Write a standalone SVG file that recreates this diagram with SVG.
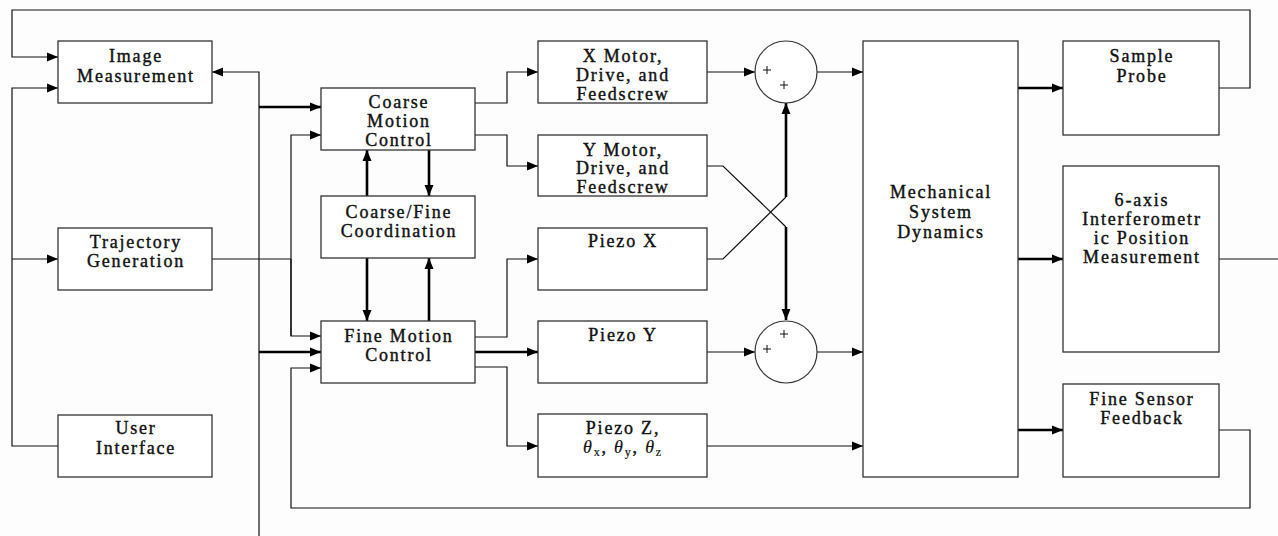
<svg xmlns="http://www.w3.org/2000/svg" width="1278" height="536" viewBox="0 0 1278 536">
<style>
.box{fill:#fff;stroke:#333;stroke-width:1.3}
.t{font-family:'Liberation Serif','DejaVu Serif',serif;font-size:18px;letter-spacing:1.8px;text-anchor:middle;fill:#111;stroke:#111;stroke-width:0.4}
.ln{fill:none;stroke:#111;stroke-width:1.2}
.th{fill:none;stroke:#000;stroke-width:2.6}
.pl{fill:none;stroke:#111;stroke-width:1}
.sub{font-size:12px;stroke-width:0.2}
.it{font-style:italic;stroke-width:0.2}
</style>
<defs>
<marker id="ah" markerUnits="userSpaceOnUse" markerWidth="12" markerHeight="10" refX="11" refY="5" orient="auto">
<path d="M0,0.5 L11,5 L0,9.5 Z" fill="#000"/>
</marker>
</defs>
<rect width="1278" height="536" fill="#fdfdfd"/>

<g id="connectors">
<path class="ln" d="M1219,88 H1250 V10 H12 V57 H58" marker-end="url(#ah)"/>
<path class="ln" d="M58,446 H12 V88 H58" marker-end="url(#ah)"/>
<path class="ln" d="M12,259 H58" marker-end="url(#ah)"/>
<path class="ln" d="M259,536 V72 H212" marker-end="url(#ah)"/>
<path class="th" d="M259,107 H321" marker-end="url(#ah)"/>
<path class="th" d="M259,352 H321" marker-end="url(#ah)"/>
<path class="ln" d="M212,259 H291"/>
<path class="ln" d="M291,336 V135 H321" marker-end="url(#ah)"/>
<path class="ln" d="M291,259 V336 H321" marker-end="url(#ah)"/>
<path class="ln" d="M1219,430 H1250 V508 H291 V368 H321" marker-end="url(#ah)"/>
<path class="th" d="M367,196 V150" marker-end="url(#ah)"/>
<path class="th" d="M429,150 V196" marker-end="url(#ah)"/>
<path class="th" d="M367,258 V321" marker-end="url(#ah)"/>
<path class="th" d="M429,321 V258" marker-end="url(#ah)"/>
<path class="ln" d="M475,103 H507 V72 H538" marker-end="url(#ah)"/>
<path class="ln" d="M475,135 H507 V166 H538" marker-end="url(#ah)"/>
<path class="ln" d="M475,337 H507 V259 H538" marker-end="url(#ah)"/>
<path class="th" d="M475,352 H538" marker-end="url(#ah)"/>
<path class="ln" d="M475,367 H507 V446 H538" marker-end="url(#ah)"/>
<path class="ln" d="M707,72 H755" marker-end="url(#ah)"/>
<path class="ln" d="M817,72 H863" marker-end="url(#ah)"/>
<path class="ln" d="M707,166 H723 L786,227"/>
<path class="th" d="M786,227 V320" marker-end="url(#ah)"/>
<path class="ln" d="M707,259 H723 L786,197"/>
<path class="th" d="M786,197 V103" marker-end="url(#ah)"/>
<path class="ln" d="M707,352 H755" marker-end="url(#ah)"/>
<path class="ln" d="M817,352 H863" marker-end="url(#ah)"/>
<path class="ln" d="M707,446 H863" marker-end="url(#ah)"/>
<path class="th" d="M1018,88 H1063" marker-end="url(#ah)"/>
<path class="th" d="M1018,259 H1063" marker-end="url(#ah)"/>
<path class="th" d="M1018,430 H1063" marker-end="url(#ah)"/>
<path class="ln" d="M1219,259 H1278"/>
</g>

<g id="image-measurement">
<rect class="box" x="58" y="41" width="154" height="62"/>
<text class="t" x="136" y="62">Image</text>
<text class="t" x="136" y="82">Measurement</text>
</g>
<g id="trajectory-generation">
<rect class="box" x="58" y="228" width="154" height="62"/>
<text class="t" x="136" y="248">Trajectory</text>
<text class="t" x="136" y="267">Generation</text>
</g>
<g id="user-interface">
<rect class="box" x="58" y="415" width="154" height="62"/>
<text class="t" x="136" y="434">User</text>
<text class="t" x="136" y="454">Interface</text>
</g>
<g id="coarse-motion-control">
<rect class="box" x="321" y="88" width="154" height="62"/>
<text class="t" x="399" y="108">Coarse</text>
<text class="t" x="399" y="127">Motion</text>
<text class="t" x="399" y="146">Control</text>
</g>
<g id="coarse-fine-coordination">
<rect class="box" x="321" y="196" width="154" height="62"/>
<text class="t" x="399" y="218">Coarse/Fine</text>
<text class="t" x="399" y="237">Coordination</text>
</g>
<g id="fine-motion-control">
<rect class="box" x="321" y="321" width="154" height="62"/>
<text class="t" x="399" y="342">Fine Motion</text>
<text class="t" x="399" y="361">Control</text>
</g>
<g id="x-motor">
<rect class="box" x="538" y="41" width="169" height="62"/>
<text class="t" x="623" y="62">X Motor,</text>
<text class="t" x="623" y="81">Drive, and</text>
<text class="t" x="623" y="100">Feedscrew</text>
</g>
<g id="y-motor">
<rect class="box" x="538" y="135" width="169" height="61"/>
<text class="t" x="623" y="156">Y Motor,</text>
<text class="t" x="623" y="174">Drive, and</text>
<text class="t" x="623" y="193">Feedscrew</text>
</g>
<g id="piezo-x">
<rect class="box" x="538" y="228" width="169" height="62"/>
<text class="t" x="623" y="247">Piezo X</text>
</g>
<g id="piezo-y">
<rect class="box" x="538" y="321" width="169" height="62"/>
<text class="t" x="623" y="341">Piezo Y</text>
</g>
<g id="piezo-z">
<rect class="box" x="538" y="414" width="169" height="63"/>
<text class="t" x="623" y="434">Piezo Z,</text>
<text class="t" x="623" y="453"><tspan class="it">θ</tspan><tspan class="sub" dy="3">x</tspan><tspan dy="-3">, </tspan><tspan class="it">θ</tspan><tspan class="sub" dy="3">y</tspan><tspan dy="-3">, </tspan><tspan class="it">θ</tspan><tspan class="sub" dy="3">z</tspan></text>
</g>
<g id="sum-1">
<circle cx="786" cy="72" r="31" fill="#fff" stroke="#333" stroke-width="1.2"/>
<path class="pl" d="M763,70 H771 M767,66 V74 M780,85 H788 M784,81 V89"/>
</g>
<g id="sum-2">
<circle cx="786" cy="352" r="31" fill="#fff" stroke="#333" stroke-width="1.2"/>
<path class="pl" d="M780,334 H788 M784,330 V338 M763,349 H771 M767,345 V353"/>
</g>
<g id="mechanical-system-dynamics">
<rect class="box" x="863" y="41" width="155" height="436"/>
<text class="t" x="941" y="198">Mechanical</text>
<text class="t" x="941" y="218">System</text>
<text class="t" x="941" y="238">Dynamics</text>
</g>
<g id="sample-probe">
<rect class="box" x="1063" y="41" width="156" height="94"/>
<text class="t" x="1142" y="62">Sample</text>
<text class="t" x="1142" y="82">Probe</text>
</g>
<g id="interferometric-measurement">
<rect class="box" x="1063" y="166" width="156" height="186"/>
<text class="t" x="1142" y="206">6-axis</text>
<text class="t" x="1142" y="225">Interferometr</text>
<text class="t" x="1142" y="244">ic Position</text>
<text class="t" x="1142" y="263">Measurement</text>
</g>
<g id="fine-sensor-feedback">
<rect class="box" x="1063" y="384" width="156" height="93"/>
<text class="t" x="1142" y="405">Fine Sensor</text>
<text class="t" x="1142" y="424">Feedback</text>
</g>
</svg>
